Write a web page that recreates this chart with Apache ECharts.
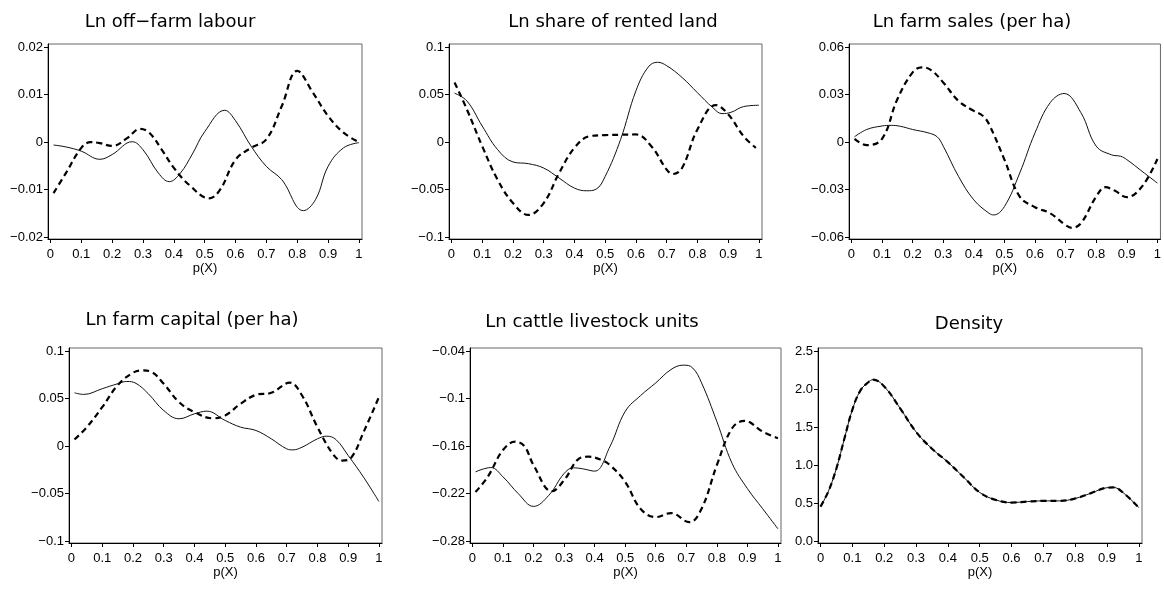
<!DOCTYPE html>
<html>
<head>
<meta charset="utf-8">
<title>Balancing plots by propensity score</title>
<script src="https://cdn.jsdelivr.net/npm/echarts@6/dist/echarts.min.js"></script>
<style>
  html, body { margin: 0; padding: 0; background: #fff; }
  #chart { width: 1164px; height: 590px; }
</style>
</head>
<body>
<div id="chart"></div>
<script>
// Shared x-axis ticks for the propensity score p(X)
const pTicks = [0, 0.1, 0.2, 0.3, 0.4, 0.5, 0.6, 0.7, 0.8, 0.9, 1];

// Panel titles
const titles = [
  'Ln off\u2212farm labour',
  'Ln share of rented land',
  'Ln farm sales (per ha)',
  'Ln farm capital (per ha)',
  'Ln cattle livestock units',
  'Density'
];

// Y-axis tick values per panel
const yTicksLabour  = [-0.02, -0.01, 0, 0.01, 0.02];
const yTicksRented  = [-0.1, -0.05, 0, 0.05, 0.1];
const yTicksSales   = [-0.06, -0.03, 0, 0.03, 0.06];
const yTicksCapital = [-0.1, -0.05, 0, 0.05, 0.1];
const yTicksCattle  = [-0.28, -0.22, -0.16, -0.1, -0.04];
const yTicksDensity = [0, 0.5, 1, 1.5, 2, 2.5];

// Curves as [p(X), value] pairs: solid and dashed line per panel
const labourSolid = [[0.01,-0.0006],[0.05,-0.0010],[0.10,-0.0019],[0.16,-0.0036],[0.20,-0.0026],[0.265,0.0001],[0.30,-0.0016],[0.35,-0.0065],[0.385,-0.0083],[0.42,-0.0066],[0.46,-0.0025],[0.50,0.0022],[0.565,0.0067],[0.60,0.0045],[0.65,-0.0008],[0.70,-0.0051],[0.75,-0.0079],[0.82,-0.0144],[0.86,-0.0120],[0.90,-0.0051],[0.95,-0.0012],[1.00,-0.0001]];
const labourDashed = [[0.01,-0.0107],[0.05,-0.0065],[0.10,-0.0012],[0.13,0.0000],[0.16,-0.0002],[0.20,-0.0008],[0.25,0.0009],[0.29,0.0028],[0.32,0.0020],[0.36,-0.0015],[0.40,-0.0054],[0.45,-0.0090],[0.515,-0.0118],[0.55,-0.0100],[0.60,-0.0037],[0.65,-0.0012],[0.70,0.0006],[0.75,0.0076],[0.80,0.0150],[0.85,0.0105],[0.90,0.0055],[0.95,0.0020],[1.00,0.0000]];

const rentedSolid = [[0.01,0.0515],[0.05,0.0434],[0.10,0.0170],[0.15,-0.0078],[0.20,-0.0208],[0.25,-0.0226],[0.30,-0.0272],[0.35,-0.0377],[0.40,-0.0483],[0.44,-0.0511],[0.47,-0.0495],[0.50,-0.0360],[0.55,0.0028],[0.60,0.0540],[0.64,0.0790],[0.67,0.0840],[0.70,0.0804],[0.75,0.0680],[0.80,0.0520],[0.85,0.0363],[0.88,0.0300],[0.91,0.0315],[0.95,0.0374],[1.00,0.0388]];
const rentedDashed = [[0.01,0.0628],[0.05,0.0346],[0.10,-0.0042],[0.15,-0.0395],[0.20,-0.0640],[0.25,-0.0765],[0.30,-0.0640],[0.35,-0.0325],[0.40,-0.0060],[0.45,0.0063],[0.50,0.0074],[0.55,0.0078],[0.60,0.0081],[0.65,-0.0042],[0.70,-0.0289],[0.72,-0.0335],[0.75,-0.0272],[0.80,0.0134],[0.86,0.0390],[0.90,0.0293],[0.95,0.0063],[0.99,-0.0060]];

const salesSolid = [[0.01,0.0034],[0.05,0.0080],[0.10,0.0102],[0.13,0.0106],[0.16,0.0100],[0.20,0.0080],[0.25,0.0059],[0.28,0.0034],[0.30,-0.0025],[0.35,-0.0216],[0.40,-0.0364],[0.45,-0.0449],[0.465,-0.0459],[0.50,-0.0406],[0.55,-0.0195],[0.60,0.0059],[0.65,0.0250],[0.695,0.0307],[0.75,0.0186],[0.80,-0.0025],[0.85,-0.0080],[0.88,-0.0089],[0.90,-0.0110],[0.95,-0.0184],[1.00,-0.0258]];
const salesDashed = [[0.01,0.0021],[0.05,-0.0019],[0.10,0.0021],[0.15,0.0271],[0.20,0.0440],[0.23,0.0472],[0.26,0.0455],[0.30,0.0377],[0.35,0.0260],[0.40,0.0197],[0.43,0.0165],[0.45,0.0112],[0.50,-0.0110],[0.55,-0.0343],[0.60,-0.0410],[0.65,-0.0449],[0.70,-0.0523],[0.72,-0.0540],[0.75,-0.0512],[0.80,-0.0343],[0.83,-0.0284],[0.86,-0.0305],[0.90,-0.0347],[0.95,-0.0279],[1.00,-0.0106]];

const capitalSolid = [[0.01,0.0561],[0.04,0.0544],[0.10,0.0604],[0.15,0.0656],[0.18,0.0680],[0.21,0.0660],[0.25,0.0551],[0.30,0.0375],[0.35,0.0288],[0.40,0.0340],[0.44,0.0368],[0.50,0.0270],[0.55,0.0200],[0.60,0.0165],[0.65,0.0077],[0.70,-0.0028],[0.72,-0.0039],[0.75,-0.0011],[0.80,0.0077],[0.83,0.0105],[0.86,0.0070],[0.90,-0.0098],[0.95,-0.0326],[1.00,-0.0582]];
const capitalDashed = [[0.01,0.0070],[0.05,0.0200],[0.10,0.0410],[0.15,0.0639],[0.20,0.0772],[0.23,0.0796],[0.26,0.0780],[0.30,0.0656],[0.35,0.0463],[0.40,0.0358],[0.46,0.0293],[0.50,0.0323],[0.55,0.0446],[0.60,0.0540],[0.65,0.0561],[0.71,0.0667],[0.75,0.0533],[0.80,0.0200],[0.85,-0.0081],[0.88,-0.0151],[0.91,-0.0120],[0.95,0.0147],[1.00,0.0516]];

const cattleSolid = [[0.01,-0.1924],[0.06,-0.1870],[0.10,-0.1987],[0.15,-0.2199],[0.20,-0.2360],[0.25,-0.2220],[0.30,-0.1945],[0.33,-0.1873],[0.36,-0.1885],[0.40,-0.1915],[0.45,-0.1606],[0.50,-0.1162],[0.55,-0.0963],[0.60,-0.0802],[0.65,-0.0633],[0.69,-0.0578],[0.72,-0.0610],[0.75,-0.0802],[0.80,-0.1289],[0.85,-0.1818],[0.90,-0.2135],[0.95,-0.2389],[1.00,-0.2643]];
const cattleDashed = [[0.01,-0.2178],[0.05,-0.1987],[0.10,-0.1649],[0.14,-0.1543],[0.17,-0.1600],[0.20,-0.1839],[0.26,-0.2169],[0.30,-0.2030],[0.35,-0.1755],[0.38,-0.1733],[0.42,-0.1770],[0.45,-0.1839],[0.50,-0.2051],[0.55,-0.2389],[0.60,-0.2495],[0.65,-0.2444],[0.71,-0.2559],[0.75,-0.2389],[0.80,-0.1839],[0.85,-0.1374],[0.89,-0.1280],[0.95,-0.1416],[1.00,-0.1500]];

const densityCurve = [[0.00,0.456],[0.025,0.660],[0.05,0.960],[0.075,1.350],[0.10,1.730],[0.125,1.980],[0.15,2.090],[0.165,2.124],[0.20,2.035],[0.25,1.748],[0.30,1.438],[0.35,1.217],[0.40,1.040],[0.45,0.841],[0.50,0.642],[0.55,0.544],[0.60,0.509],[0.65,0.522],[0.70,0.531],[0.75,0.531],[0.80,0.562],[0.85,0.633],[0.90,0.704],[0.92,0.708],[0.95,0.642],[1.00,0.442]];

// Layout of the six panels (grid boxes in pixels, title anchor)
const panels = [
  { title: titles[0], tx: 170, ty: 13, box: [48, 44, 314, 195], yTicks: yTicksLabour,  solid: labourSolid,  dashed: labourDashed },
  { title: titles[1], tx: 613, ty: 13, box: [449, 44, 313, 195], yTicks: yTicksRented,  solid: rentedSolid,  dashed: rentedDashed },
  { title: titles[2], tx: 972, ty: 13, box: [849, 44, 313, 195], yTicks: yTicksSales,   solid: salesSolid,   dashed: salesDashed },
  { title: titles[3], tx: 192, ty: 311, box: [69, 348, 313, 195], yTicks: yTicksCapital, solid: capitalSolid, dashed: capitalDashed },
  { title: titles[4], tx: 592, ty: 313, box: [470, 348, 311, 195], yTicks: yTicksCattle,  solid: cattleSolid,  dashed: cattleDashed },
  { title: titles[5], tx: 969, ty: 315, box: [818, 348, 324, 195], yTicks: yTicksDensity, solid: densityCurve, dashed: densityCurve, oneDecimal: true }
];

const TICK_FONT = 'Liberation Sans, Arial, sans-serif';
const TITLE_FONT = 'DejaVu Sans, Liberation Sans, sans-serif';

function minusSign(s) { return s.replace('-', '\u2212'); }
function fmtTick(v) { return minusSign(String(+v.toFixed(4))); }

const chart = echarts.init(document.getElementById('chart'), null, { renderer: 'canvas' });

const option = {
  backgroundColor: '#fff',
  animation: false,
  title: panels.map(p => ({
    text: p.title,
    left: p.tx,
    top: p.ty,
    padding: 0,
    textAlign: 'center',
    textStyle: { fontFamily: TITLE_FONT, fontSize: 18, fontWeight: 'normal', color: '#000' }
  })),
  grid: panels.map(p => ({
    left: p.box[0], top: p.box[1], width: p.box[2], height: p.box[3],
    show: true, borderColor: '#666', borderWidth: 1, backgroundColor: 'transparent',
    containLabel: false
  })),
  xAxis: panels.map((p, i) => ({
    type: 'value', gridIndex: i,
    min: -0.008, max: 1.01,
    name: 'p(X)', nameLocation: 'middle', nameGap: 23,
    nameTextStyle: { fontFamily: TICK_FONT, fontSize: 13, color: '#000' },
    axisLine: { onZero: false, lineStyle: { color: '#000', width: 1 } },
    axisTick: { show: true, length: 4, customValues: pTicks, lineStyle: { color: '#000' } },
    axisLabel: { customValues: pTicks, margin: 9, fontFamily: TICK_FONT, fontSize: 13, color: '#000',
      formatter: v => String(+v.toFixed(1)) },
    splitLine: { show: false }
  })),
  yAxis: panels.map((p, i) => {
    const lo = p.yTicks[0], hi = p.yTicks[p.yTicks.length - 1], span = hi - lo;
    return {
      type: 'value', gridIndex: i,
      min: lo - 0.009 * span, max: hi + 0.016 * span,
      axisLine: { show: true, onZero: false, lineStyle: { color: '#000', width: 1 } },
      axisTick: { show: true, length: 4, customValues: p.yTicks, lineStyle: { color: '#000' } },
      axisLabel: { customValues: p.yTicks, margin: 5, fontFamily: TICK_FONT, fontSize: 13, color: '#000',
        formatter: p.oneDecimal ? (v => v.toFixed(1)) : fmtTick },
      splitLine: { show: false }
    };
  }),
  series: panels.flatMap((p, i) => [
    {
      type: 'line', xAxisIndex: i, yAxisIndex: i, data: p.solid,
      smooth: 0.4, showSymbol: false, silent: true,
      lineStyle: { color: '#111', width: 1, type: 'solid' }
    },
    {
      type: 'line', xAxisIndex: i, yAxisIndex: i, data: p.dashed,
      smooth: 0.4, showSymbol: false, silent: true,
      lineStyle: { color: '#000', width: 2.2, type: [6, 4] }
    }
  ])
};

chart.setOption(option);
</script>
</body>
</html>
